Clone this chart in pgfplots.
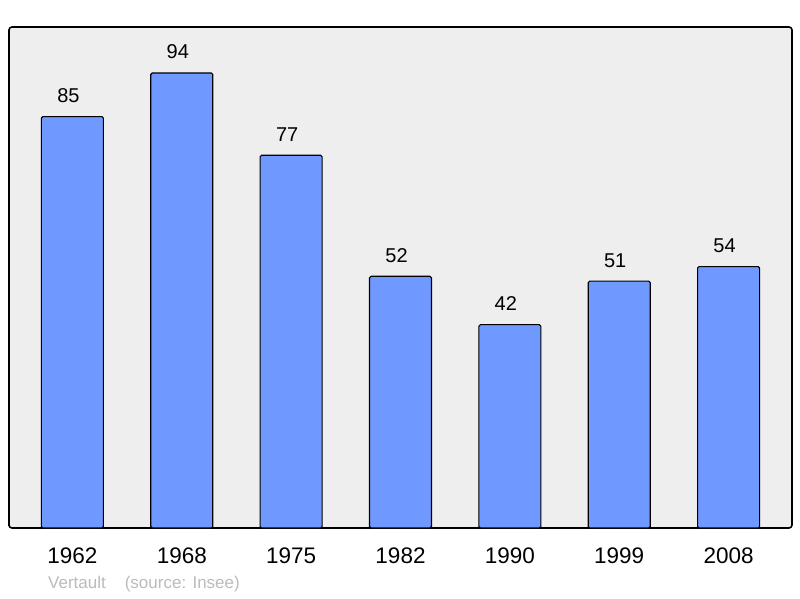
\documentclass[border=0pt]{standalone}
\usepackage{pgfplots}
\pgfplotsset{compat=1.18}
\usepackage{fontspec}
\setmainfont{Liberation Sans}
\definecolor{bgc}{HTML}{EEEEEE}
\definecolor{barc}{HTML}{7099FF}
\definecolor{srcc}{HTML}{BBBBBB}
\begin{document}
\begin{tikzpicture}
\path[use as bounding box] (-9pt,-70pt) rectangle (791pt,528pt);
\begin{axis}[
  at={(0pt,0pt)}, anchor=south west,
  scale only axis, width=783pt, height=501pt,
  xmin=-0.58, xmax=6.58, ymin=0, ymax=103.5,
  xtick={0,1,2,3,4,5,6},
  xticklabels={1962,1968,1975,1982,1990,1999,2008},
  ytick=\empty,
  major tick length=0pt,
  /pgf/number format/assume math mode=true,
  x tick label style={font=\fontsize{22.5}{26}\selectfont, yshift=-16pt},
  axis background/.style={fill=bgc},
  axis line style={line width=1.6pt, rounded corners=3pt},
  clip=false,
]
\addplot[ybar, bar width=62pt, fill=barc, draw=black, line width=1.1pt, rounded corners=1.5pt,
  nodes near coords, every node near coord/.append style={font=\fontsize{20}{24}\selectfont, black, yshift=10pt, xshift=-4pt}]
  coordinates {(0,85) (1,94) (2,77) (3,52) (4,42) (5,51) (6,54)};
\node[anchor=west, text=srcc, font=\fontsize{17}{20}\selectfont, inner sep=0pt] at (rel axis cs:0.0498,-0.112) {Vertault\hspace{19pt}(source: Insee)};
\end{axis}
\end{tikzpicture}
\end{document}
